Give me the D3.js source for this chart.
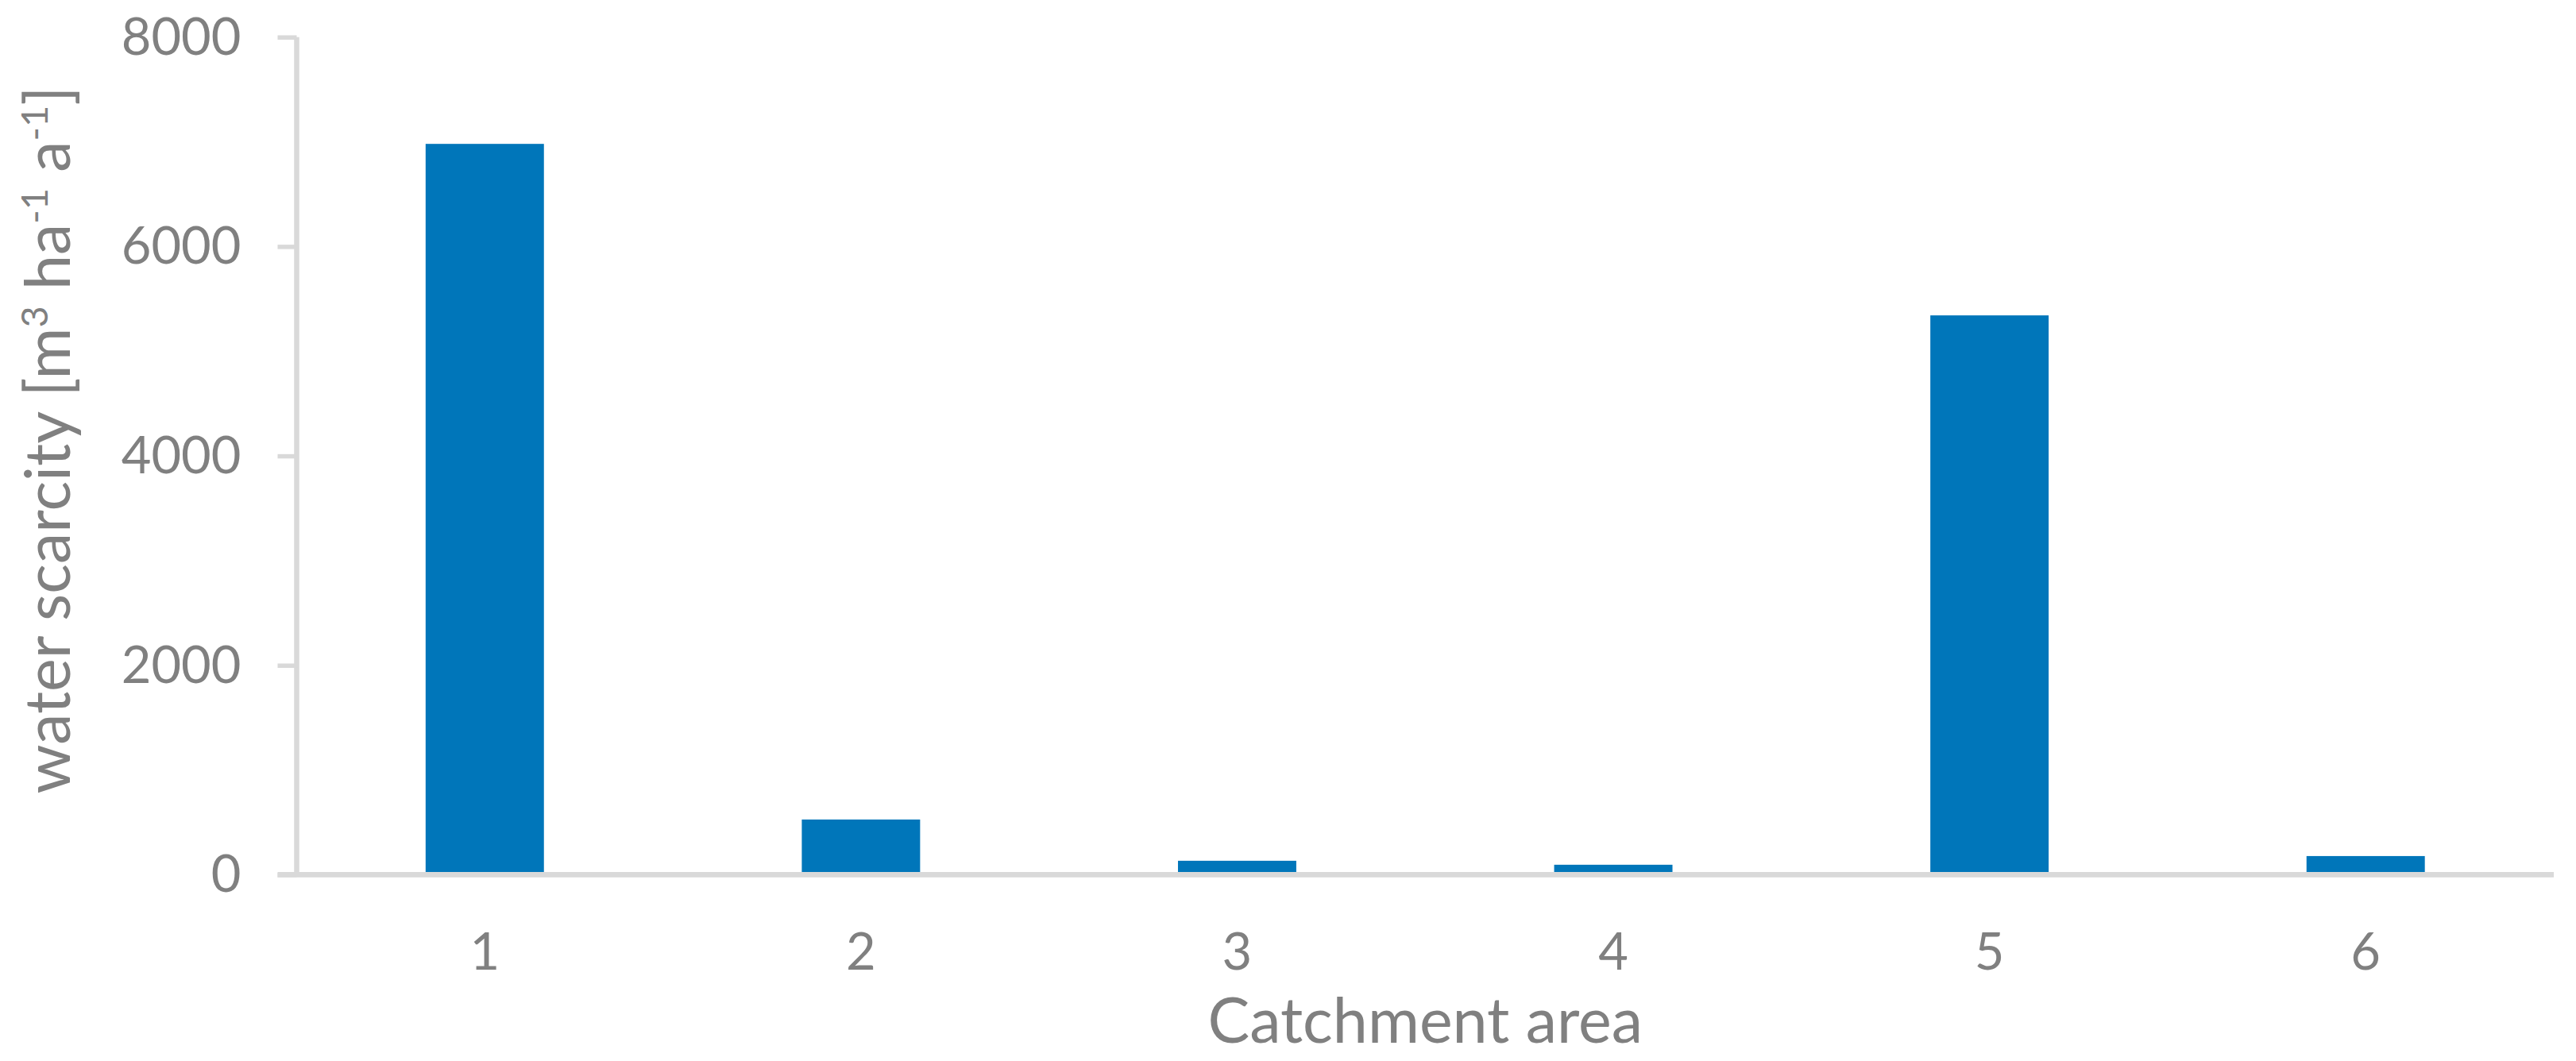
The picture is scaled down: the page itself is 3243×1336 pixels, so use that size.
<!DOCTYPE html>
<html>
<head>
<meta charset="utf-8">
<script src="https://cdn.jsdelivr.net/npm/d3@7"></script>
<style>
  html, body { margin: 0; padding: 0; background: #ffffff; }
  svg { display: block; }
  text { font-family: Lato, "Open Sans", sans-serif; fill: #808080; }
</style>
</head>
<body>
<svg id="chart" width="3243" height="1336"></svg>
<script>
// ---- data ----
const categories = ["1", "2", "3", "4", "5", "6"];
const values = [6980, 527, 133, 95, 5342, 178];
const yTicks = [0, 2000, 4000, 6000, 8000];
const xTitle = "Catchment area";
const yTitleParts = [
  { t: "water scarcity [m", sup: false },
  { t: "3", sup: true },
  { t: " ha", sup: false },
  { t: "-1", sup: true },
  { t: " a", sup: false },
  { t: "-1", sup: true },
  { t: "]", sup: false }
];

// ---- layout ----
const W = 3243, H = 1336;
const plot = { left: 373.5, right: 3215, top: 46.7, bottom: 1101.4 };
const barColor = "#0076BA";
const axisColor = "#D9D9D9";

const svg = d3.select("#chart");

const x = d3.scaleBand()
  .domain(categories)
  .range([plot.left, plot.right])
  .paddingInner(0.6855)
  .paddingOuter(0.34275);

const y = d3.scaleLinear()
  .domain([0, 8000])
  .range([plot.bottom, plot.top]);

// bars
svg.append("g")
  .selectAll("rect")
  .data(values)
  .join("rect")
  .attr("x", (d, i) => x(categories[i]))
  .attr("width", x.bandwidth())
  .attr("y", d => y(d))
  .attr("height", d => y(0) - y(d))
  .attr("fill", barColor);

// y axis
const yAxis = d3.axisLeft(y)
  .tickValues(yTicks)
  .tickSize(24)
  .tickPadding(46)
  .tickFormat(d3.format("d"));

const gy = svg.append("g")
  .attr("transform", `translate(${plot.left},0)`)
  .call(yAxis);
gy.select(".domain").attr("stroke", axisColor).attr("stroke-width", 6.5)
  .attr("d", `M0,${plot.top}V${plot.bottom}`);
gy.selectAll(".tick line").attr("stroke", axisColor).attr("stroke-width", 5.5);
gy.selectAll(".tick text")
  .attr("font-size", 65)
  .attr("dy", "0.33em")
  .attr("fill", "#808080")
  .style("font-family", "Lato, sans-serif");

// x axis
const xAxis = d3.axisBottom(x).tickSize(0).tickPadding(0);
const gx = svg.append("g")
  .attr("transform", `translate(0,${plot.bottom})`)
  .call(xAxis);
gx.select(".domain").attr("stroke", axisColor).attr("stroke-width", 6.7)
  .attr("d", `M${plot.left - 24},0H${plot.right}`);
gx.selectAll(".tick text")
  .attr("font-size", 65)
  .attr("y", 119.5)
  .attr("dy", 0)
  .attr("fill", "#808080")
  .style("font-family", "Lato, sans-serif");

// x title
const xt = svg.append("text")
  .attr("x", (plot.left + plot.right) / 2)
  .attr("y", 1313)
  .attr("text-anchor", "middle")
  .attr("font-size", 79)
  .text(xTitle);

// y title
const yt = svg.append("text")
  .attr("transform", `translate(88,554) rotate(-90)`)
  .attr("text-anchor", "middle")
  .attr("font-size", 79);
let prevSup = false;
yTitleParts.forEach(p => {
  const ts = yt.append("tspan").text(p.t);
  if (p.sup && !prevSup) ts.attr("dy", -28).attr("font-size", 47);
  else if (!p.sup && prevSup) ts.attr("dy", 28);
  else if (p.sup) ts.attr("font-size", 47);
  prevSup = p.sup;
});
</script>
</body>
</html>
